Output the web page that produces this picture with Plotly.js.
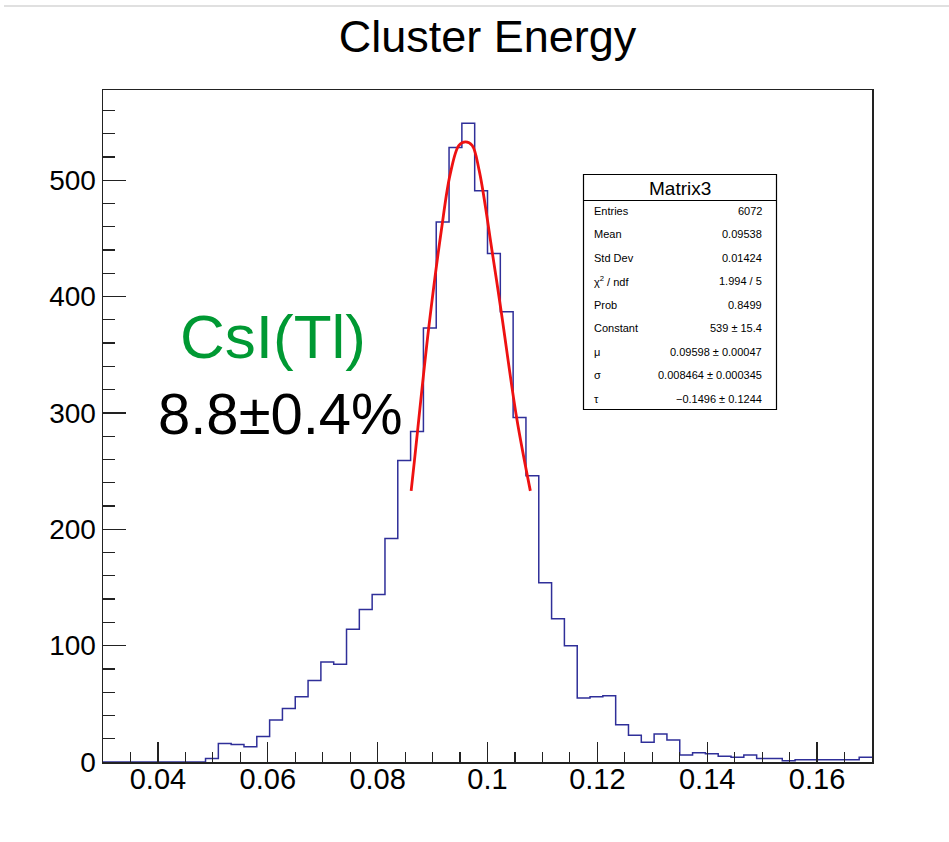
<!DOCTYPE html>
<html>
<head>
<meta charset="utf-8">
<script src="https://cdn.plot.ly/plotly-3.0.1.min.js"></script>
<style>html,body{margin:0;padding:0;background:#fff;}#chart{width:949px;height:842px;}</style>
</head>
<body>
<div id="chart"></div>
<script>
// Histogram binning: 60 bins over [0.03, 0.17]
const binLow = 0.03;
const binHigh = 0.17;
const nBins = 60;
// Bin contents
const counts = [0,0,0,0,0,0,0,0,3,16,15,13,22,36,46,56,70,86,84,114,131,144,192,259,284,373,464,528,549,491,437,387,296,246,154,123,100,55,56,57,32,23,17,24,19,6,8,7,5,4,6,3,3,1,2,2,2,2,2,4];
// Fit curve points
const fitX = [0.0861,0.0867,0.0893,0.0916,0.0932,0.0948,0.0960,0.0972,0.0985,0.1009,0.1025,0.1053,0.1078];
const fitY = [233,259,373,457,505,530,533,530,508,437,387,296,233];
// Axis ticks
const xTickVals = [0.04,0.06,0.08,0.1,0.12,0.14,0.16];
const xTickText = ["0.04","0.06","0.08","0.1","0.12","0.14","0.16"];
const yTickVals = [0,100,200,300,400,500];
const yTickText = ["0","100","200","300","400","500"];
// Stats box
const statsTitle = "Matrix3";
const statsNames = ["Entries","Mean","Std Dev","χ<sup>2</sup> / ndf","Prob","Constant","μ","σ","τ"];
const statsValues = ["6072","0.09538","0.01424","1.994 / 5","0.8499","539 ± 15.4","0.09598 ± 0.00047","0.008464 ± 0.000345","−0.1496 ± 0.1244"];

const bw = (binHigh - binLow) / nBins;
const stepX = [], stepY = [];
for (let i = 0; i < nBins; i++) { stepX.push(binLow + i * bw); stepY.push(counts[i]); }
stepX.push(binHigh); stepY.push(counts[nBins - 1]);

const FONT = "Liberation Sans, Arial, Helvetica, sans-serif";
const L = 103, R = 872, T = 90, B = 762, PW = R - L, PH = B - T;
const px = x => (x - L) / PW;
const py = y => (B - y) / PH;

const traces = [
  {x: stepX, y: stepY, type: 'scatter', mode: 'lines', line: {shape: 'hv', color: '#2f2f99', width: 1.5}, hoverinfo: 'skip'},
  {x: fitX, y: fitY, type: 'scatter', mode: 'lines', line: {shape: 'spline', color: '#ee1111', width: 2.8}, hoverinfo: 'skip'}
];

const annotations = [];
const rowY0 = 210.5, rowStep = 23.5;
statsNames.forEach((n, i) => {
  const y = py(rowY0 + i * rowStep);
  annotations.push({xref: 'paper', yref: 'paper', x: px(591.5), y: y, xanchor: 'left', yanchor: 'middle', text: n, showarrow: false, font: {family: FONT, size: 11, color: '#000'}});
  annotations.push({xref: 'paper', yref: 'paper', x: px(764), y: y, xanchor: 'right', yanchor: 'middle', text: statsValues[i], showarrow: false, font: {family: FONT, size: 11, color: '#000'}});
});
annotations.push({xref: 'paper', yref: 'paper', x: px(680), y: py(188), xanchor: 'center', yanchor: 'middle', text: statsTitle, showarrow: false, font: {family: FONT, size: 19, color: '#000'}});
annotations.push({xref: 'paper', yref: 'paper', x: px(272.5), y: py(336), xanchor: 'center', yanchor: 'middle', text: 'CsI(Tl)', showarrow: false, font: {family: FONT, size: 62, color: '#009933'}});
annotations.push({xref: 'paper', yref: 'paper', x: px(280), y: py(414), xanchor: 'center', yanchor: 'middle', text: '8.8±0.4%', showarrow: false, font: {family: FONT, size: 58, color: '#000'}});

const layout = {
  width: 949, height: 842,
  margin: {l: L, r: 949 - R, t: T, b: 842 - B, pad: 0},
  paper_bgcolor: '#fff', plot_bgcolor: '#fff',
  showlegend: false,
  title: {text: 'Cluster Energy', font: {family: FONT, size: 45, color: '#000'}, xref: 'paper', x: 0.5, xanchor: 'center', yref: 'container', y: 1 - 36/842, yanchor: 'middle'},
  xaxis: {
    range: [binLow, binHigh], showgrid: false, zeroline: false,
    showline: true, linecolor: '#222', linewidth: 1.5, mirror: true,
    ticks: 'inside', ticklen: 20, tickwidth: 1.3, tickcolor: '#222',
    tickvals: xTickVals, ticktext: xTickText, ticklabelstandoff: -9,
    tickfont: {family: FONT, size: 29, color: '#000'},
    minor: {dtick: 0.005, tick0: 0, ticks: 'inside', ticklen: 10, tickwidth: 1.2, tickcolor: '#222', showgrid: false}
  },
  yaxis: {
    range: [0, 577.5], showgrid: false, zeroline: false,
    showline: true, linecolor: '#222', linewidth: 1.5, mirror: true,
    ticks: 'inside', ticklen: 23, tickwidth: 1.3, tickcolor: '#222',
    tickvals: yTickVals, ticktext: yTickText,
    tickfont: {family: FONT, size: 28, color: '#000'},
    minor: {dtick: 20, tick0: 0, ticks: 'inside', ticklen: 12, tickwidth: 1.2, tickcolor: '#222', showgrid: false}
  },
  shapes: [
    {type: 'line', xref: 'paper', yref: 'paper', x0: px(4), x1: px(949), y0: py(6), y1: py(6), line: {color: '#d6d6d6', width: 1.5}},
    {type: 'rect', xref: 'paper', yref: 'paper', x0: px(583.5), x1: px(776.5), y0: py(409.5), y1: py(174.5), line: {color: '#000', width: 1.2}, fillcolor: '#fff', layer: 'above'},
    {type: 'line', xref: 'paper', yref: 'paper', x0: px(583.5), x1: px(776.5), y0: py(200.5), y1: py(200.5), line: {color: '#000', width: 1}}
  ],
  annotations: annotations
};

Plotly.newPlot('chart', traces, layout, {displayModeBar: false, staticPlot: true});
</script>
</body>
</html>
